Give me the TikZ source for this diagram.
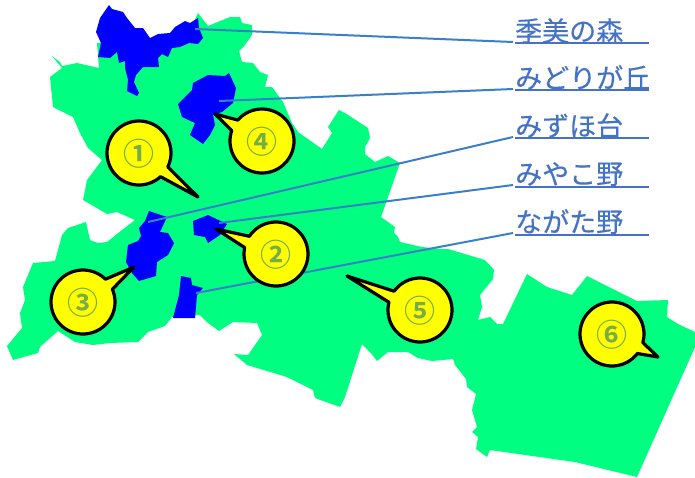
\documentclass[tikz,border=0pt]{standalone}
\usepackage{fontspec}
\newfontfamily\jpfont[FakeBold=0.35]{Noto Sans CJK JP}
\newfontfamily\digitfont{Noto Sans CJK JP Bold}
\definecolor{mapgreen}{HTML}{00FF80}
\definecolor{wardblue}{HTML}{0000FF}
\definecolor{leaderblue}{HTML}{3A80C8}
\definecolor{labelblue}{HTML}{4472C4}
\definecolor{digitgreen}{HTML}{77AB4B}
\definecolor{balloonyellow}{HTML}{FFFF00}
\tikzset{
  mapshape/.style={fill=mapgreen,draw=none},
  wardshape/.style={fill=wardblue,draw=none,line join=round},
  leader/.style={draw=leaderblue,line width=2pt},
  rulebelow/.style={draw=labelblue,line width=2pt},
  placename/.style={anchor=base west,inner sep=0pt,text=labelblue,font=\jpfont\fontsize{27}{27}\selectfont},
  digitlabel/.style={inner sep=0pt,text=digitgreen,font=\digitfont\fontsize{31}{31}\selectfont},
  balloon/.style={fill=balloonyellow,draw=black,line width=3.2pt,line join=round}
}
\newcommand{\balloonat}[6]{%
  \pgfmathsetmacro{\tipang}{atan2(#5-#3,#4-#2)}
  \draw[balloon] (#4,#5) -- plot[domain={\tipang+11}:{\tipang+349},samples=72,variable=\t] ({#2+32*cos(\t)},{#3+32*sin(\t)}) -- cycle;
  \node[digitlabel] (#1) at (#2,#3+1) {#6};
}
\begin{document}
\begin{tikzpicture}[x=1pt,y=-1pt]
\useasboundingbox (0,0) rectangle (695,477);
% city outline
\fill[mapshape] (198,13) -- (208,26) -- (230,17) -- (240,17) -- (242,23) -- (252,25) -- (252,35) -- (245,45) -- (239,51) -- (242,62) -- (253,63) -- (260,72) -- (268,75) -- (265,87) -- (272,87) -- (283,102) -- (292,123) -- (298,132) -- (322,149) -- (332,133) -- (328,127) -- (339,110) -- (345,113) -- (368,128) -- (370,138) -- (365,147) -- (365,154) -- (375,162) -- (388,156) -- (400,163) -- (381,217) -- (395,227) -- (394,233) -- (398,237) -- (400,242) -- (422,247) -- (442,249) -- (448,249) -- (485,260) -- (494,270) -- (493,279) -- (480,295) -- (482,307) -- (478,320) -- (490,317) -- (497,324) -- (503,324) -- (527,274) -- (547,287) -- (572,295) -- (587,276) -- (637,301) -- (668,300) -- (667,317) -- (678,324) -- (695,332) -- (695,347) -- (637,477) -- (575,462) -- (490,450) -- (487,457) -- (476,449) -- (478,437) -- (472,432) -- (477,427) -- (472,410) -- (476,394) -- (467,387) -- (466,379) -- (455,365) -- (453,359) -- (432,361) -- (418,358) -- (408,352) -- (388,352) -- (377,361) -- (370,352) -- (362,344) -- (345,397) -- (340,407) -- (315,398) -- (313,390) -- (287,377) -- (247,365) -- (234,354) -- (248,355) -- (262,335) -- (257,323) -- (233,322) -- (219,331) -- (208,323) -- (200,315) -- (172,317) -- (165,326) -- (148,332) -- (138,342) -- (110,343) -- (93,345) -- (75,342) -- (58,331) -- (40,347) -- (38,353) -- (13,360) -- (7,346) -- (22,328) -- (20,313) -- (25,300) -- (23,287) -- (33,263) -- (55,261) -- (62,235) -- (68,228) -- (86,222) -- (90,240) -- (98,243) -- (107,242) -- (122,230) -- (135,220) -- (117,212) -- (107,214) -- (83,200) -- (87,180) -- (102,160) -- (88,148) -- (80,133) -- (73,117) -- (53,107) -- (50,77) -- (62,68) -- (52,56) -- (60,62) -- (62,66) -- (77,63) -- (99,68) -- (97,43) -- (120,40) -- (150,42) -- (175,40) -- (190,30) -- cycle;
% highlighted districts
\fill[wardshape] (109,5) -- (112,9) -- (123,12) -- (127,18) -- (135,28) -- (143,28) -- (150,38) -- (158,34) -- (170,33) -- (175,27) -- (185,21) -- (190,23) -- (198,18) -- (199,28) -- (203,38) -- (198,44) -- (189,43) -- (180,47) -- (172,48) -- (168,57) -- (162,54) -- (158,58) -- (159,67) -- (143,67) -- (136,75) -- (134,82) -- (139,93) -- (137,96) -- (127,91) -- (128,80) -- (125,68) -- (125,61) -- (119,63) -- (117,52) -- (110,58) -- (98,57) -- (101,43) -- (96,32) -- (100,18) -- cycle;
\fill[wardshape] (229,73) -- (236,88) -- (233,103) -- (222,112) -- (213,115) -- (215,125) -- (210,135) -- (203,144) -- (190,135) -- (195,123) -- (182,117) -- (178,104) -- (192,90) -- (193,83) -- (208,75) -- (225,76) -- cycle;
\fill[wardshape] (149,211) -- (167,217) -- (160,232) -- (168,233) -- (174,243) -- (168,255) -- (157,262) -- (156,276) -- (139,281) -- (132,273) -- (126,262) -- (128,245) -- (138,241) -- (141,236) -- (139,228) -- (145,221) -- cycle;
\fill[wardshape] (208,215) -- (227,224) -- (220,235) -- (208,243) -- (205,237) -- (194,235) -- (193,221) -- cycle;
\fill[wardshape] (181,276) -- (191,278) -- (192,285) -- (203,288) -- (197,295) -- (195,318) -- (173,318) -- (179,295) -- cycle;
% place names
\node[placename] (n1) at (515,41) {季美の森};
\node[placename] (n2) at (515,88) {みどりが丘};
\node[placename] (n3) at (515,136) {みずほ台};
\node[placename] (n4) at (515,184) {みやこ野};
\node[placename] (n5) at (515,232) {ながた野};
% rules under names
\foreach \i/\yy in {1/43,2/90,3/138,4/187,5/235} {
  \coordinate (ua\i) at (515,\yy);
  \coordinate (ub\i) at (649,\yy);
  \draw[rulebelow] (ua\i) -- (ub\i);
}
% leaders
\coordinate (s1) at (195,29);   \coordinate (e1) at (513,42);
\coordinate (s2) at (219,101);  \coordinate (e2) at (513,89);
\coordinate (s3) at (148,222);  \coordinate (e3) at (513,137);
\coordinate (s4) at (219,223);  \coordinate (e4) at (513,185);
\coordinate (s5) at (196,293);  \coordinate (e5) at (513,233);
\foreach \i in {1,...,5} { \draw[leader] (s\i) -- (e\i); }
% balloons
\balloonat{c1}{139}{153}{198}{197}{①}
\balloonat{c2}{276}{254}{216}{229}{②}
\balloonat{c3}{83}{302}{134}{267}{③}
\balloonat{c4}{262}{141}{215}{114}{④}
\balloonat{c5}{420}{310}{347}{276}{⑤}
\balloonat{c6}{612}{334}{658}{357}{⑥}
\end{tikzpicture}
\end{document}
